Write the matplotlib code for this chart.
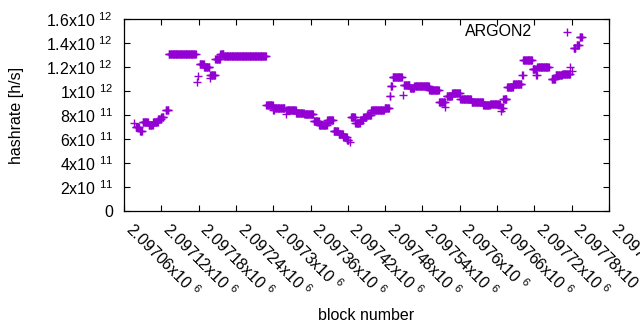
import numpy as np
import matplotlib
matplotlib.use("Agg")
import matplotlib.pyplot as plt

plt.rcParams['font.family'] = ['Liberation Sans', 'DejaVu Sans']
plt.rcParams['mathtext.fontset'] = 'custom'
plt.rcParams['mathtext.rm'] = 'Liberation Sans'
plt.rcParams['mathtext.it'] = 'Liberation Sans:italic'
plt.rcParams['mathtext.bf'] = 'Liberation Sans:bold'

BASE = 2097000
# runs of consecutive blocks with the same hashrate (block offsets from BASE, value in 1e11 h/s)
run_start = [76, 79, 86, 90, 100, 107, 115, 120, 127, 132, 177, 179, 182, 189, 198, 199, 207, 215, 221,
             289, 300, 302, 320, 321, 337, 350, 365, 374, 387, 397, 405, 413, 419, 423, 425, 432, 440,
             445, 450, 458, 479, 487, 489, 492, 508, 510, 520, 527, 551, 567, 577, 579, 588, 601, 619,
             638, 649, 666, 667, 670, 676, 686, 700, 702, 717, 723, 725, 748, 754, 765, 778, 780, 783,
             788, 793]
run_end = [76, 84, 89, 98, 106, 114, 119, 123, 131, 175, 177, 179, 188, 197, 198, 206, 214, 220, 288,
           299, 301, 318, 320, 336, 349, 364, 373, 386, 396, 404, 412, 418, 421, 423, 431, 439, 444,
           449, 457, 478, 486, 488, 491, 507, 508, 519, 526, 550, 566, 576, 577, 587, 600, 618, 637,
           648, 664, 666, 669, 675, 685, 699, 701, 716, 722, 724, 743, 753, 764, 777, 778, 780, 786,
           791, 796]
run_value = [7.3, 7.0, 6.7, 7.4, 7.2, 7.45, 7.7, 7.85, 8.4, 13.1, 10.8, 11.3, 12.25, 11.98, 11.1, 11.37,
             12.66, 13.1, 12.9, 8.8, 8.42, 8.56, 8.1, 8.38, 8.2, 8.06, 7.53, 7.17, 7.55, 6.7, 6.45, 6.12,
             5.9, 5.75, 7.8, 7.3, 7.55, 7.86, 8.0, 8.42, 8.6, 9.55, 10.4, 11.15, 9.65, 10.47, 10.23,
             10.4, 10.08, 9.05, 8.7, 9.57, 9.82, 9.37, 9.05, 8.84, 8.9, 8.3, 8.56, 9.31, 10.32, 10.63,
             11.38, 12.6, 11.82, 11.35, 11.98, 10.97, 11.35, 11.43, 12.0, 11.7, 13.6, 13.85, 14.5]

x_ticks = [2097060, 2097120, 2097180, 2097240, 2097300, 2097360, 2097420, 2097480, 2097540,
           2097600, 2097660, 2097720, 2097780, 2097840]
x_ticklabels = ['2.09706', '2.09712', '2.09718', '2.09724', '2.0973', '2.09736', '2.09742',
                '2.09748', '2.09754', '2.0976', '2.09766', '2.09772', '2.09778', '2.09784']
y_ticks = [0, 2e11, 4e11, 6e11, 8e11, 1e12, 1.2e12, 1.4e12, 1.6e12]
y_ticklabels = ['0', '2x10 $^{11}$', '4x10 $^{11}$', '6x10 $^{11}$', '8x10 $^{11}$',
                '1x10 $^{12}$', '1.2x10 $^{12}$', '1.4x10 $^{12}$', '1.6x10 $^{12}$']

blocks = []
values = []
for s, e, v in zip(run_start, run_end, run_value):
    for b in range(s, e + 1):
        blocks.append(BASE + b)
        values.append(v * 1e11)

color = '#9400D3'
fig = plt.figure(figsize=(6.4, 3.3), dpi=100)
ax = fig.add_axes([124/640, 119.3/330, 485/640, 191.4/330])
ax.plot(blocks, values, linestyle='none', marker='+', color=color, markersize=5.2, mew=1.0)

ax.set_xlim(2097060, 2097840)
ax.set_ylim(0, 1.6e12)
ax.set_xticks(x_ticks)
ax.set_xticklabels([l + 'x10 $^{6}$' for l in x_ticklabels], rotation=-45, ha='left', va='baseline',
                   rotation_mode='anchor')
ax.set_yticks(y_ticks)
ax.set_yticklabels(y_ticklabels)
ax.tick_params(direction='in', length=4, width=0.8, top=True, right=True, labelsize=11.5, color='black')
ax.tick_params(axis='y', pad=8)
ax.tick_params(axis='x', pad=14)
for sp in ax.spines.values():
    sp.set_linewidth(0.9)

# key (gnuplot style: text then sample)
ax.text((532-124)/485, (210.7-32)/191.4, 'ARGON2', transform=ax.transAxes, ha='right', va='center',
        fontsize=11.5)
ax.plot([(567-124)/485], [(210.7-32)/191.4], transform=ax.transAxes, marker='+', color=color,
        markersize=5.2, mew=1.0, linestyle='none')

fig.text(17/640, 1 - 115/330, 'hashrate [h/s]', rotation=90, ha='center', va='center', fontsize=11.5)
fig.text(366/640, 15/330, 'block number', ha='center', va='center', fontsize=11.5)

fig.savefig('out.png', dpi=100)
